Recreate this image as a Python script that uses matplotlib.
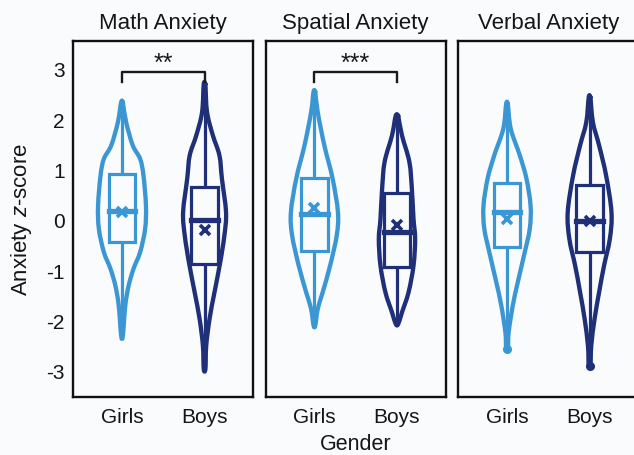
import matplotlib
matplotlib.use("Agg")
import matplotlib.pyplot as plt
import numpy as np
from matplotlib.path import Path
from matplotlib.patches import PathPatch

plt.rcParams["font.family"] = ["Liberation Sans", "DejaVu Sans"]
plt.rcParams["axes.unicode_minus"] = False
plt.rcParams["mathtext.fontset"] = "custom"
plt.rcParams["mathtext.it"] = "Liberation Sans:italic"
plt.rcParams["mathtext.rm"] = "Liberation Sans"
plt.rcParams["text.color"] = "#151515"
plt.rcParams["xtick.color"] = "#151515"
plt.rcParams["ytick.color"] = "#151515"

panels = ["Math Anxiety", "Spatial Anxiety", "Verbal Anxiety"]
groups = ["Girls", "Boys"]
colors = {"Girls": "#3b96d4", "Boys": "#1f2f78"}
significance = ["**", "***", None]

# violin outlines: y knots and half-widths (x units)
violin_y = {
    ("Math Anxiety", "Girls"): [2.34, 1.94, 1.48, 1.21, 0.88, 0.28, -0.18, -0.64, -0.97, -1.31, -1.70, -2.30],
    ("Math Anxiety", "Boys"): [2.70, 2.14, 1.68, 1.28, 0.82, 0.15, -0.31, -0.84, -1.44, -1.97, -2.50, -2.96],
    ("Spatial Anxiety", "Girls"): [2.55, 2.14, 1.48, 0.82, 0.15, -0.31, -0.91, -1.44, -1.77, -2.10],
    ("Spatial Anxiety", "Boys"): [2.07, 1.68, 1.15, 0.62, 0.02, -0.38, -0.91, -1.44, -1.84, -2.07],
    ("Verbal Anxiety", "Girls"): [2.31, 1.81, 1.28, 0.82, 0.28, -0.18, -0.71, -1.24, -1.70, -2.23, -2.56],
    ("Verbal Anxiety", "Boys"): [2.44, 1.94, 1.48, 0.88, 0.15, -0.38, -0.91, -1.44, -1.97, -2.50, -2.90],
}
violin_hw = {
    ("Math Anxiety", "Girls"): [0.01, 0.05, 0.13, 0.22, 0.26, 0.29, 0.28, 0.22, 0.14, 0.08, 0.04, 0.01],
    ("Math Anxiety", "Boys"): [0.01, 0.03, 0.10, 0.18, 0.21, 0.26, 0.24, 0.19, 0.12, 0.06, 0.02, 0.01],
    ("Spatial Anxiety", "Girls"): [0.01, 0.04, 0.12, 0.22, 0.285, 0.27, 0.19, 0.10, 0.04, 0.01],
    ("Spatial Anxiety", "Boys"): [0.015, 0.06, 0.15, 0.18, 0.20, 0.22, 0.20, 0.14, 0.06, 0.015],
    ("Verbal Anxiety", "Girls"): [0.01, 0.045, 0.155, 0.235, 0.285, 0.275, 0.205, 0.13, 0.07, 0.02, 0.01],
    ("Verbal Anxiety", "Boys"): [0.01, 0.04, 0.115, 0.20, 0.265, 0.245, 0.175, 0.115, 0.06, 0.02, 0.01],
}

# box summaries: q1, median, q3, mean, min, max
q1 = {"Math Anxiety": [-0.44, -0.87], "Spatial Anxiety": [-0.61, -0.94], "Verbal Anxiety": [-0.54, -0.64]}
median = {"Math Anxiety": [0.17, -0.01], "Spatial Anxiety": [0.12, -0.25], "Verbal Anxiety": [0.16, -0.03]}
q3 = {"Math Anxiety": [0.91, 0.65], "Spatial Anxiety": [0.83, 0.53], "Verbal Anxiety": [0.73, 0.70]}
mean = {"Math Anxiety": [0.15, -0.21], "Spatial Anxiety": [0.24, -0.11], "Verbal Anxiety": [0.02, -0.03]}
vmin = {"Math Anxiety": [-2.30, -2.96], "Spatial Anxiety": [-2.10, -2.07], "Verbal Anxiety": [-2.56, -2.90]}
vmax = {"Math Anxiety": [2.34, 2.70], "Spatial Anxiety": [2.55, 2.07], "Verbal Anxiety": [2.31, 2.44]}
outliers = {"Math Anxiety": [[], []], "Spatial Anxiety": [[], []], "Verbal Anxiety": [[-2.56], [-2.90]]}

yticks = [3, 2, 1, 0, -1, -2, -3]


def smooth_path(xs, ys):
    # Catmull-Rom through the knots, turned into cubic bezier segments
    pts = np.column_stack([xs, ys])
    n = len(pts)
    verts = [pts[0]]
    codes = [Path.MOVETO]
    for i in range(n - 1):
        p0 = pts[i - 1] if i > 0 else pts[i]
        p1 = pts[i]
        p2 = pts[i + 1]
        p3 = pts[i + 2] if i + 2 < n else pts[i + 1]
        c1 = p1 + (p2 - p0) / 6
        c2 = p2 - (p3 - p1) / 6
        verts += [c1, c2, p2]
        codes += [Path.CURVE4] * 3
    return Path(verts, codes)


fig = plt.figure(figsize=(6.34, 4.56), dpi=100)
bg = "#fafbfd"
fig.patch.set_facecolor(bg)

lefts = [0.1156, 0.4191, 0.7229]
for k, panel in enumerate(panels):
    ax = fig.add_axes([lefts[k], 0.1272, 0.2839, 0.7814])
    ax.set_facecolor(bg)
    for j, g in enumerate(groups):
        pos = j + 1
        c = colors[g]
        ys = np.array(violin_y[(panel, g)])
        hw = np.array(violin_hw[(panel, g)])
        # closed outline: right side top->bottom, then left side bottom->top
        xs = np.concatenate([pos + hw, (pos - hw)[::-1], [pos + hw[0]]])
        yy = np.concatenate([ys, ys[::-1], [ys[0]]])
        path = smooth_path(xs, yy)
        ax.add_patch(PathPatch(path, facecolor="none", edgecolor=c, lw=3.1,
                               joinstyle="round", capstyle="round", zorder=2))
        # whiskers
        ax.plot([pos, pos], [q3[panel][j], vmax[panel][j]], color=c, lw=2.3,
                solid_capstyle="round", zorder=3)
        ax.plot([pos, pos], [q1[panel][j], vmin[panel][j]], color=c, lw=2.3,
                solid_capstyle="round", zorder=3)
        # box
        bw = 0.16
        ax.add_patch(plt.Rectangle((pos - bw, q1[panel][j]), 2 * bw,
                                   q3[panel][j] - q1[panel][j], facecolor=bg,
                                   edgecolor=c, lw=2.3, zorder=4))
        ax.plot([pos - bw, pos + bw], [median[panel][j]] * 2, color=c, lw=3.8, zorder=5)
        ax.plot(pos, mean[panel][j], marker="x", color=c, ms=7.5, mew=2.6, zorder=6)
        if outliers[panel][j]:
            ax.plot([pos] * len(outliers[panel][j]), outliers[panel][j], "o",
                    color=c, ms=5.5, zorder=6)

    if significance[k]:
        ax.plot([1, 1, 2, 2], [2.74, 2.94, 2.94, 2.74], color="#1a1a1a", lw=1.7)
        ax.text(1.5, 2.99, significance[k], ha="center", va="baseline", fontsize=18,
                color="#1a1a1a")

    ax.set_xlim(0.41, 2.59)
    ax.set_ylim(-3.52, 3.56)
    ax.set_xticks([1, 2])
    ax.set_xticklabels(groups)
    ax.tick_params(axis="x", length=0, pad=7, labelsize=15)
    if k == 0:
        ax.set_yticks(yticks)
        ax.set_yticklabels([str(t) for t in yticks])
        ax.tick_params(axis="y", length=0, pad=6, labelsize=15)
    else:
        ax.set_yticks([])
    for s in ax.spines.values():
        s.set_linewidth(1.7)
        s.set_color("#111111")
    ax.set_title(panel, fontsize=16, pad=9)

fig.text(22 / 634, 1 - 219 / 456, r"Anxiety $z$-score", rotation=90,
         ha="center", va="center", fontsize=16)
fig.text(356 / 634, 0.025, "Gender", ha="center", va="center", fontsize=15.5)

fig.savefig("out.png", dpi=100, facecolor=bg)
